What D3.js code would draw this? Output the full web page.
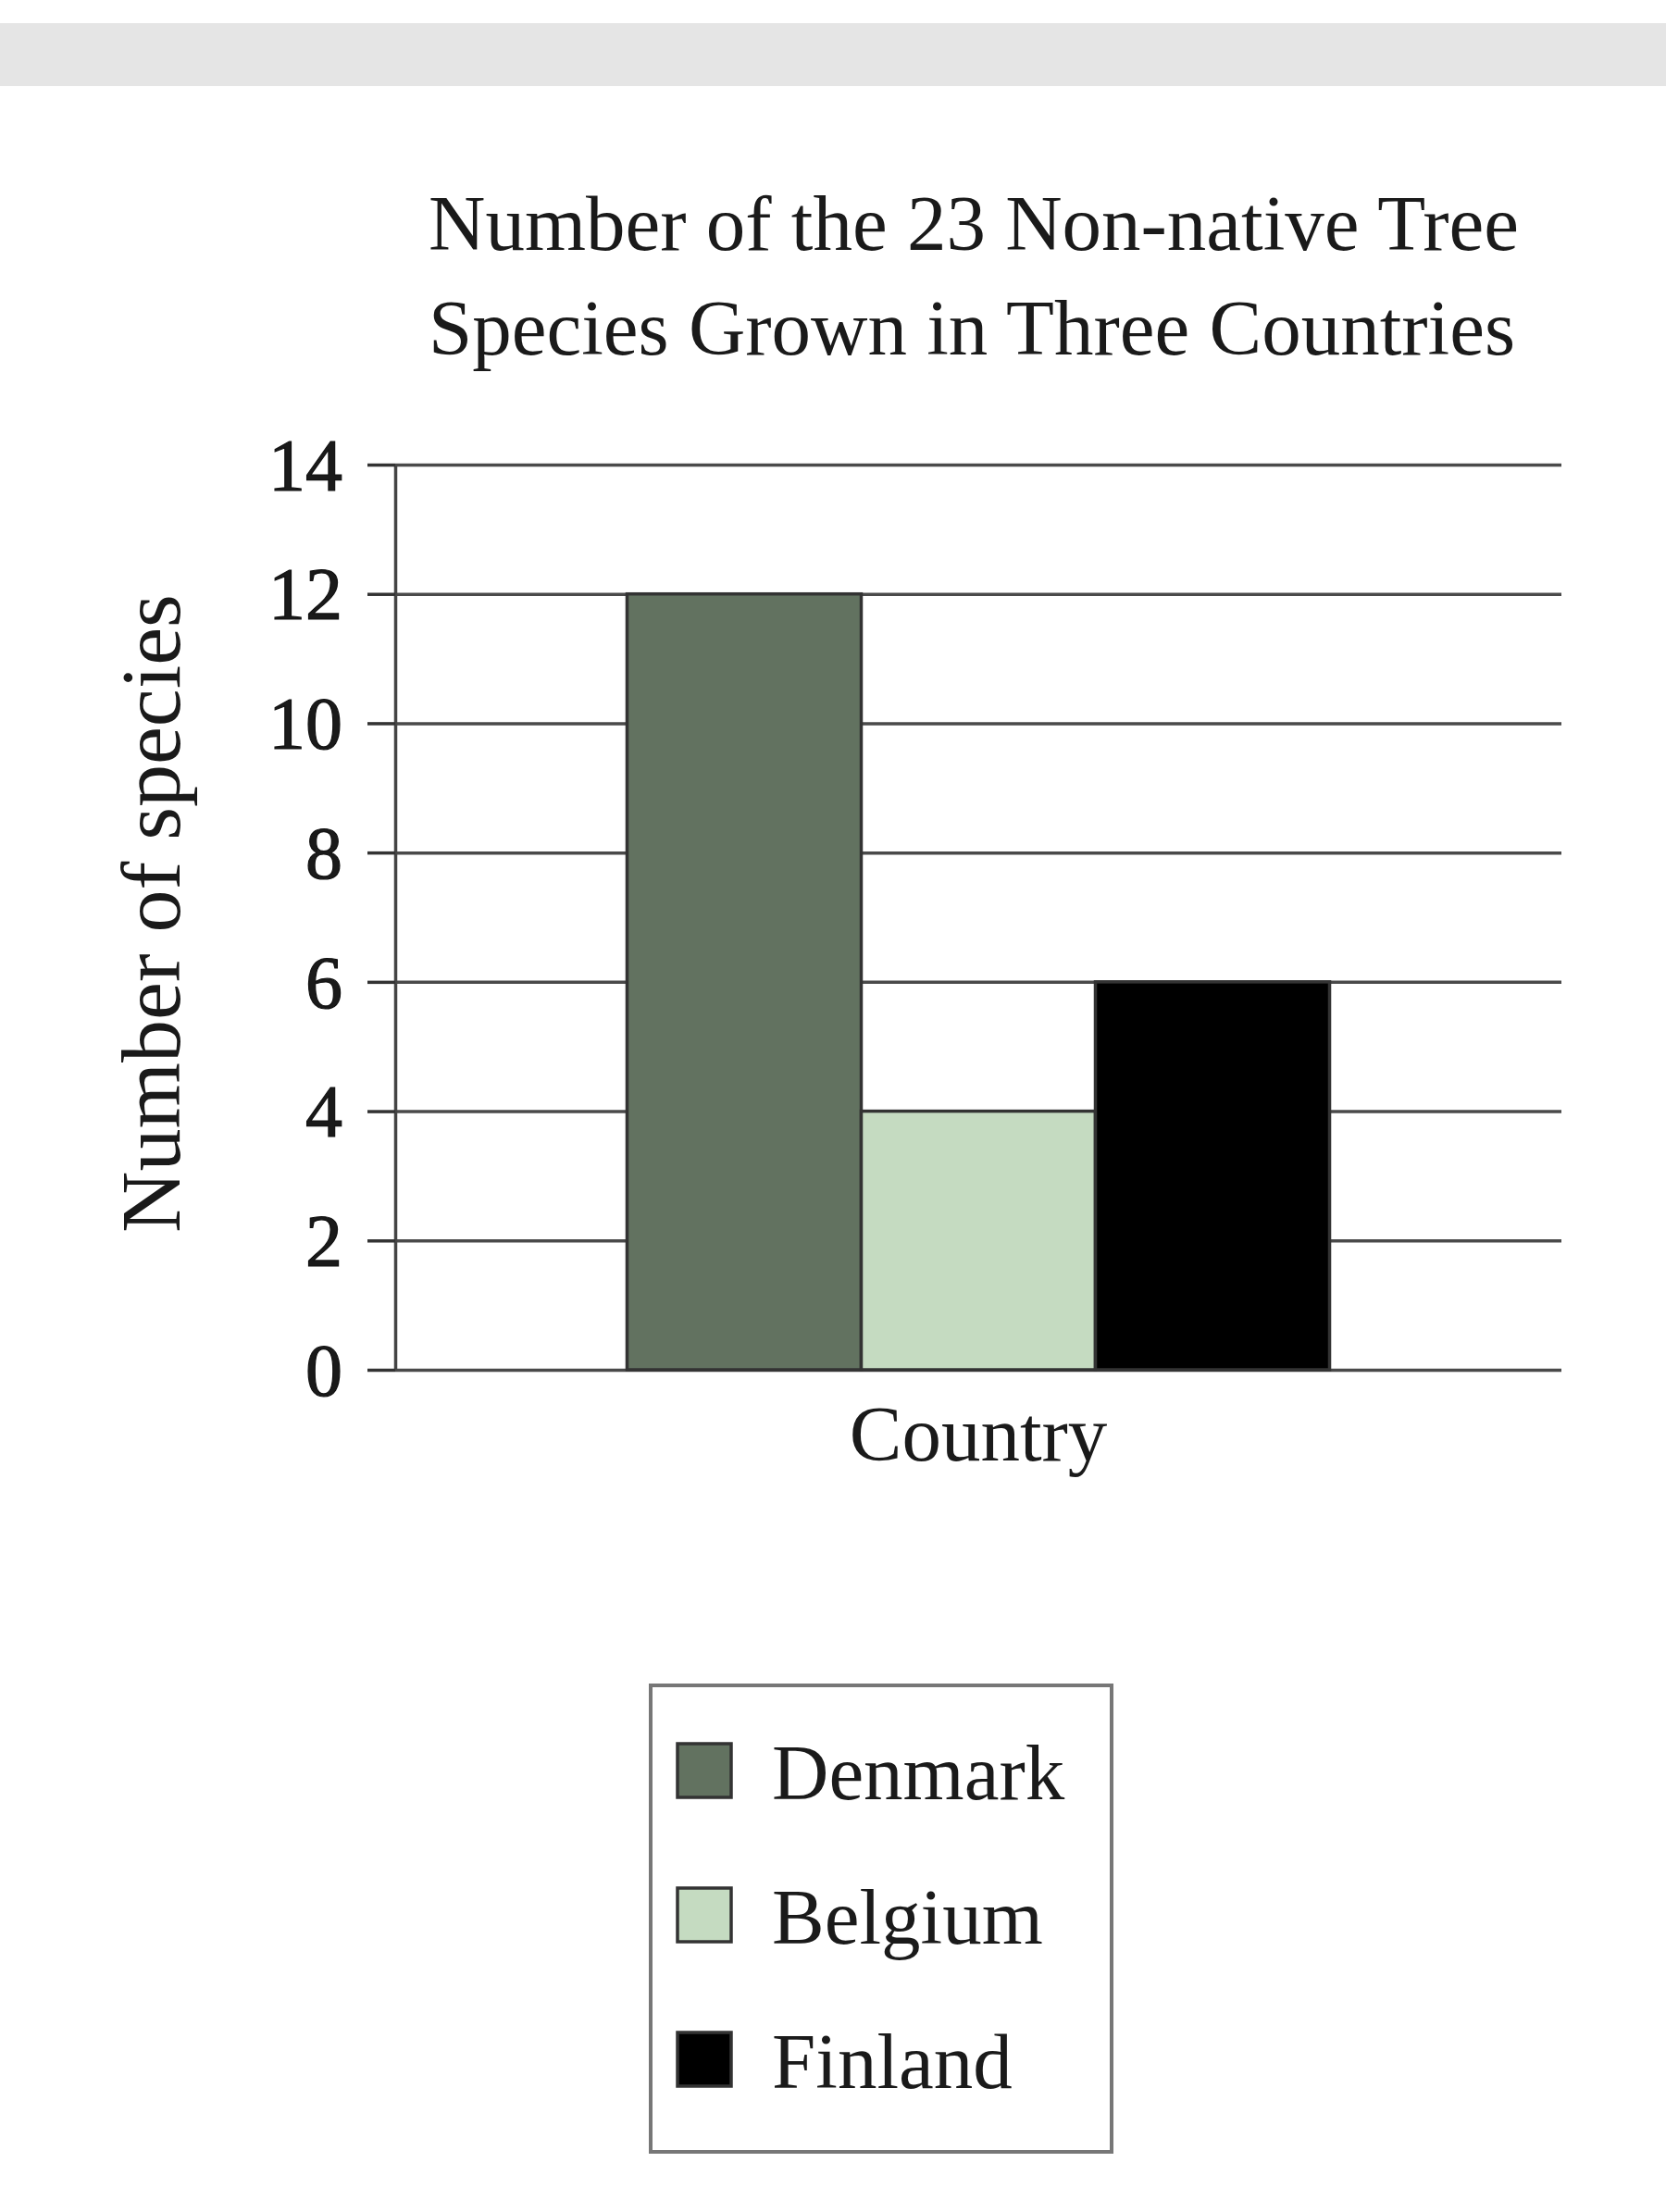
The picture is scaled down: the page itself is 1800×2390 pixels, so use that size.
<!DOCTYPE html>
<html lang="en">
<head>
    <meta charset="UTF-8">
    <title>Non-native Tree Species</title>
    <style>
        body { margin: 0; background: #fff; }
        svg { display: block; }
        text { font-family: "Liberation Serif", "DejaVu Serif", serif; fill: #1a1a1a; }
    </style>
</head>
<body>
    <script src="https://cdn.jsdelivr.net/npm/d3@7.8.5/dist/d3.min.js"></script>
    <script>
        // data
        const group = ["Country"];
        const countries = ["Denmark", "Belgium", "Finland"];
        const species = [12, 4, 6];
        const yTicks = [0, 2, 4, 6, 8, 10, 12, 14];
        const titleLines = ["Number of the 23 Non-native Tree", "Species Grown in Three Countries"];

        const barColors = ["#627260", "#c5dbc1", "#000000"];

        const largeur = 1800;
        const hauteur = 2390;
        const plotLeft = 427, plotRight = 1687, plotTop = 502, plotBottom = 1480;

        const svg = d3.select("body")
            .append("svg")
            .attr("width", largeur)
            .attr("height", hauteur);

        // bande grise en haut
        svg.append("rect")
            .attr("x", 0).attr("y", 25)
            .attr("width", largeur).attr("height", 68)
            .attr("fill", "#e5e5e5");

        // titre
        svg.append("g").selectAll("text")
            .data(titleLines)
            .join("text")
                .attr("x", 463)
                .attr("y", (d, i) => 270 + i * 113)
                .style("font-size", "85px")
                .text(d => d);

        // echelles
        const xScale = d3.scaleBand()
            .domain(group)
            .range([plotLeft, plotRight])
            .paddingInner(0)
            .paddingOuter(0.33);

        const xInner = d3.scaleBand()
            .domain(countries)
            .range([0, xScale.bandwidth()]);

        const yScale = d3.scaleLinear()
            .domain([0, 14])
            .range([plotBottom, plotTop]);

        const color = d3.scaleOrdinal().domain(countries).range(barColors);

        // lignes horizontales
        svg.append("g")
            .attr("class", "grid")
            .attr("transform", `translate(${plotLeft},0)`)
            .call(d3.axisLeft(yScale).tickValues(yTicks).tickSize(-(plotRight - plotLeft)).tickSizeOuter(0).tickFormat(""))
            .call(g => g.select(".domain").remove())
            .call(g => g.selectAll("line").attr("stroke", "#4a4a4a").attr("stroke-width", 3.5));

        // axe Y avec graduations
        svg.append("g")
            .attr("class", "axeY")
            .attr("transform", `translate(${plotLeft},0)`)
            .call(d3.axisLeft(yScale).tickValues(yTicks).tickSize(30).tickSizeOuter(0).tickPadding(27))
            .call(g => g.select(".domain").attr("stroke", "#444").attr("stroke-width", 3.5))
            .call(g => g.selectAll("line").attr("stroke", "#333").attr("stroke-width", 3.5))
            .call(g => g.selectAll("text")
                .style("font-size", "80px")
                .style("font-family", "Liberation Serif")
                .attr("fill", "#111")
                .attr("stroke", "#111")
                .attr("stroke-width", 1.2)
                .attr("dy", "0.34em"));

        // barres
        const data = countries.map((c, i) => ({ country: c, value: species[i] }));
        svg.append("g")
            .attr("transform", `translate(${xScale("Country")},0)`)
            .selectAll("rect")
            .data(data)
            .join("rect")
                .attr("x", d => xInner(d.country))
                .attr("y", d => yScale(d.value))
                .attr("width", xInner.bandwidth())
                .attr("height", d => yScale(0) - yScale(d.value))
                .attr("fill", d => color(d.country))
                .attr("stroke", "#333")
                .attr("stroke-width", 3.5);

        // titres des axes
        svg.append("text")
            .attr("x", xScale("Country") + xScale.bandwidth() / 2)
            .attr("y", 1578)
            .attr("text-anchor", "middle")
            .style("font-size", "85px")
            .text("Country");

        svg.append("text")
            .attr("transform", "translate(194,987) rotate(-90)")
            .attr("text-anchor", "middle")
            .style("font-size", "92px")
            .text("Number of species");

        // legende
        const legend = svg.append("g");
        legend.append("rect")
            .attr("x", 703).attr("y", 1821)
            .attr("width", 498).attr("height", 504)
            .attr("fill", "none")
            .attr("stroke", "#777")
            .attr("stroke-width", 4);

        const item = legend.selectAll("g.item")
            .data(countries)
            .join("g")
                .attr("class", "item")
                .attr("transform", (d, i) => `translate(732,${1884 + i * 156})`);

        item.append("rect")
            .attr("width", 58).attr("height", 58)
            .attr("fill", d => color(d))
            .attr("stroke", "#333")
            .attr("stroke-width", 3.5);

        item.append("text")
            .attr("x", 102)
            .attr("y", 60)
            .style("font-size", "85px")
            .text(d => d);
    </script>
</body>
</html>
